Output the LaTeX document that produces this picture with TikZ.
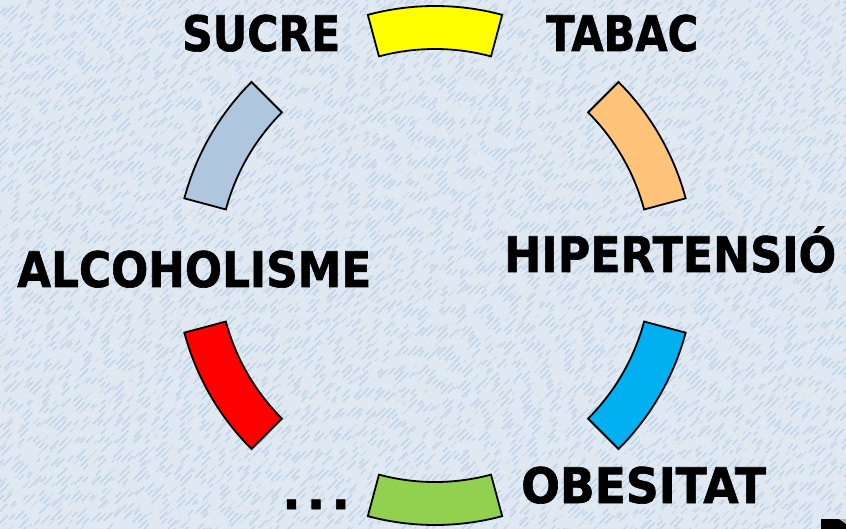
\documentclass[tikz,border=0pt]{standalone}
\usepackage{fontspec}
\usepackage{graphicx}
\newfontfamily\labfont{DejaVu Sans Bold}[FakeBold=1.3]
\definecolor{bgc}{RGB}{224,233,242}
\definecolor{streakc}{RGB}{186,209,234}
\definecolor{streakg}{RGB}{205,213,226}
\definecolor{segyellow}{RGB}{255,255,0}
\definecolor{segorange}{RGB}{255,196,122}
\definecolor{segblue}{RGB}{0,176,240}
\definecolor{seggreen}{RGB}{146,208,80}
\definecolor{segred}{RGB}{255,0,0}
\definecolor{seglight}{RGB}{174,199,222}
\tikzset{
  streak/.style={streakc, line width=1.1pt},
  streak2/.style={streakg, line width=0.8pt},
  segment/.style={draw=black, line width=1.8pt, line join=miter},
  lab/.style={inner sep=0pt, anchor=base west, font=\labfont\fontsize{49}{55}\selectfont},
}
% visual angle #1 (math convention), fill #2
\newcommand\ringseg[2]{%
  \pgfmathsetmacro\aone{-(#1)+15}%
  \pgfmathsetmacro\atwo{-(#1)-15}%
  \fill[#2] ([shift={(\aone:259.5)}]ctr) arc[start angle=\aone, end angle=\atwo, radius=259.5]
     -- ([shift={(\atwo:216.5)}]ctr) arc[start angle=\atwo, end angle=\aone, radius=216.5] -- cycle;
  \draw[segment] ([shift={(\aone:259.5)}]ctr) arc[start angle=\aone, end angle=\atwo, radius=259.5]
     -- ([shift={(\atwo:216.5)}]ctr) arc[start angle=\atwo, end angle=\aone, radius=216.5] -- cycle;
}
\begin{document}
\begin{tikzpicture}[x=1pt, y=-1pt]
\useasboundingbox (0,0) rectangle (846,529);
% background texture
\begin{scope}
\clip (0,0) rectangle (846,529);
\fill[bgc] (0,0) rectangle (846,529);
\pgfmathsetseed{7}
\foreach \k in {-540,-534,...,850}{
  \pgfmathsetmacro\ph{rnd*80}
  \pgfmathsetmacro\aa{rnd*14+4}
  \draw[streak, dash pattern=on \aa pt off 14pt on 12pt off 22pt on 7pt off 18pt, dash phase=\ph pt] (\k,535) -- ++(545,-545);
}
\foreach \k in {-537,-528,...,850}{
  \pgfmathsetmacro\ph{rnd*60}
  \draw[streak2, dash pattern=on 9pt off 20pt on 5pt off 26pt, dash phase=\ph pt] (\k,535) -- ++(545,-545);
}
\end{scope}
\coordinate (ctr) at (435,265.5);
% ring segments
\ringseg{90}{segyellow}
\ringseg{30}{segorange}
\ringseg{-30}{segblue}
\ringseg{-90}{seggreen}
\ringseg{210}{segred}
\ringseg{150}{seglight}
% labels
\node[lab] (sucre) at (182,51) {\resizebox{158pt}{\height}{SUCRE}};
\node[lab] (tabac) at (546,51) {\resizebox{152pt}{\height}{TABAC}};
\node[lab] (hiper) at (504,272) {\resizebox{332pt}{\height}{HIPERTENSIÓ}};
\node[lab] (alco) at (17,287) {\resizebox{354pt}{\height}{ALCOHOLISME}};
\node[lab] (obes) at (521,503) {\resizebox{245pt}{\height}{OBESITAT}};
\node[lab] (dots) at (282,509) {.\kern6pt.\kern6pt.};
% corner element
\fill[black] (821,519) rectangle (846,529);
\fill[gray!60] (839,519) -- (846,519) -- (846,524) -- cycle;
\end{tikzpicture}
\end{document}
